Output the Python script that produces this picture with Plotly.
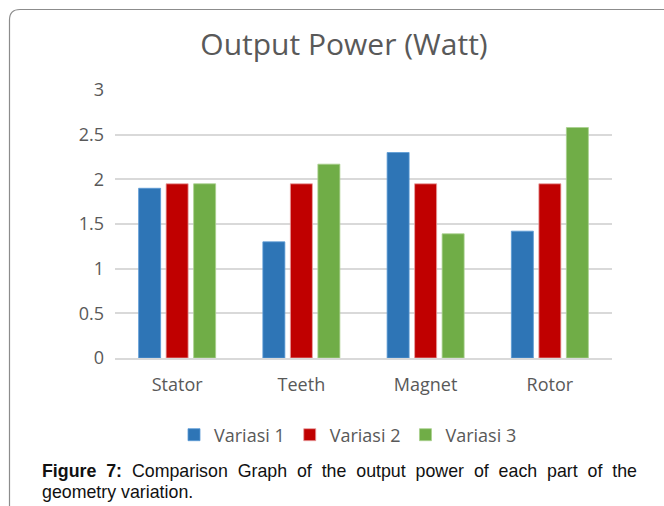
import plotly.graph_objects as go

categories = ["Stator", "Teeth", "Magnet", "Rotor"]
series_names = ["Variasi 1", "Variasi 2", "Variasi 3"]
variasi1 = [1.9, 1.3, 2.3, 1.42]
variasi2 = [1.95, 1.95, 1.95, 1.95]
variasi3 = [1.95, 2.17, 1.39, 2.58]
y_ticks = [0, 0.5, 1, 1.5, 2, 2.5, 3]
y_tick_labels = ["0", "0.5", "1", "1.5", "2", "2.5", "3"]

colors = ["#2E75B6", "#C00000", "#70AD47"]
edge = ["#5B9BD5", "#E8A0A0", "#A9D08E"]

W, H = 664, 506
L, R, T, B = 115, 52, 90, 148

fig = go.Figure()
for name, vals, c, e in zip(series_names, [variasi1, variasi2, variasi3], colors, edge):
    fig.add_trace(go.Bar(x=categories, y=vals, name=name,
                         marker=dict(color=c, line=dict(color=e, width=0.8))))

font_main = "Open Sans, Lato, sans-serif"
fig.update_layout(
    width=W, height=H,
    margin=dict(l=L, r=R, t=T, b=B, pad=0),
    paper_bgcolor="white", plot_bgcolor="white",
    barmode="group", bargap=0.336, bargroupgap=0.2,
    title=dict(text="Output Power (Watt)", x=(344) / W, xanchor="center",
               y=1 - 44 / H, yanchor="middle",
               font=dict(family=font_main, size=30, color="#595959")),
    xaxis=dict(showgrid=False, showline=True, linecolor="#D9D9D9", linewidth=1.5,
               tickfont=dict(family=font_main, size=18, color="#595959"),
               ticks="", ticklabelstandoff=10),
    yaxis=dict(range=[0, 3], tickvals=y_ticks, ticktext=y_tick_labels,
               showgrid=True, gridcolor="#D9D9D9", gridwidth=1.5,
               zeroline=False, showline=False, ticks="", ticklabelstandoff=10,
               tickfont=dict(family=font_main, size=18, color="#595959")),
    legend=dict(orientation="h", x=(348 - L) / (W - L - R), xanchor="center",
                y=-(435 - (H - B)) / (H - T - B), yanchor="middle",
                font=dict(family=font_main, size=18, color="#595959"),
                itemwidth=30, traceorder="normal", tracegroupgap=0),
    showlegend=True,
)

pw = W - L - R
ph = H - T - B
def px_x(x):
    return (x - L) / pw
def px_y(y):
    return (H - B - y) / ph

# frame around figure
fig.add_shape(type="path", xref="paper", yref="paper",
              path=f"M {px_x(9.5)},{px_y(H + 5)} L {px_x(9.5)},{px_y(20)} Q {px_x(9.5)},{px_y(9.5)} {px_x(20)},{px_y(9.5)} L {px_x(W + 5)},{px_y(9.5)}",
              line=dict(color="#8C8C8C", width=1.2))

cap_font = dict(family="Liberation Sans, Arial, sans-serif", size=17.8, color="#111111")
line1 = "Figure 7: Comparison Graph of the output power of each part of the".replace(" ", " \u00a0")
line1 = line1.replace("Figure \u00a07:", "<b>Figure \u00a07:</b>", 1)
fig.add_annotation(xref="paper", yref="paper", x=px_x(40), y=px_y(471),
                   xanchor="left", yanchor="middle", showarrow=False, align="left",
                   text=line1, font=cap_font)
fig.add_annotation(xref="paper", yref="paper", x=px_x(40), y=px_y(492),
                   xanchor="left", yanchor="middle", showarrow=False, align="left",
                   text="geometry variation.", font=cap_font)

fig.write_html("out.html", config={"displayModeBar": False},
               post_script="document.body.style.margin='0';document.body.style.overflow='hidden';")
